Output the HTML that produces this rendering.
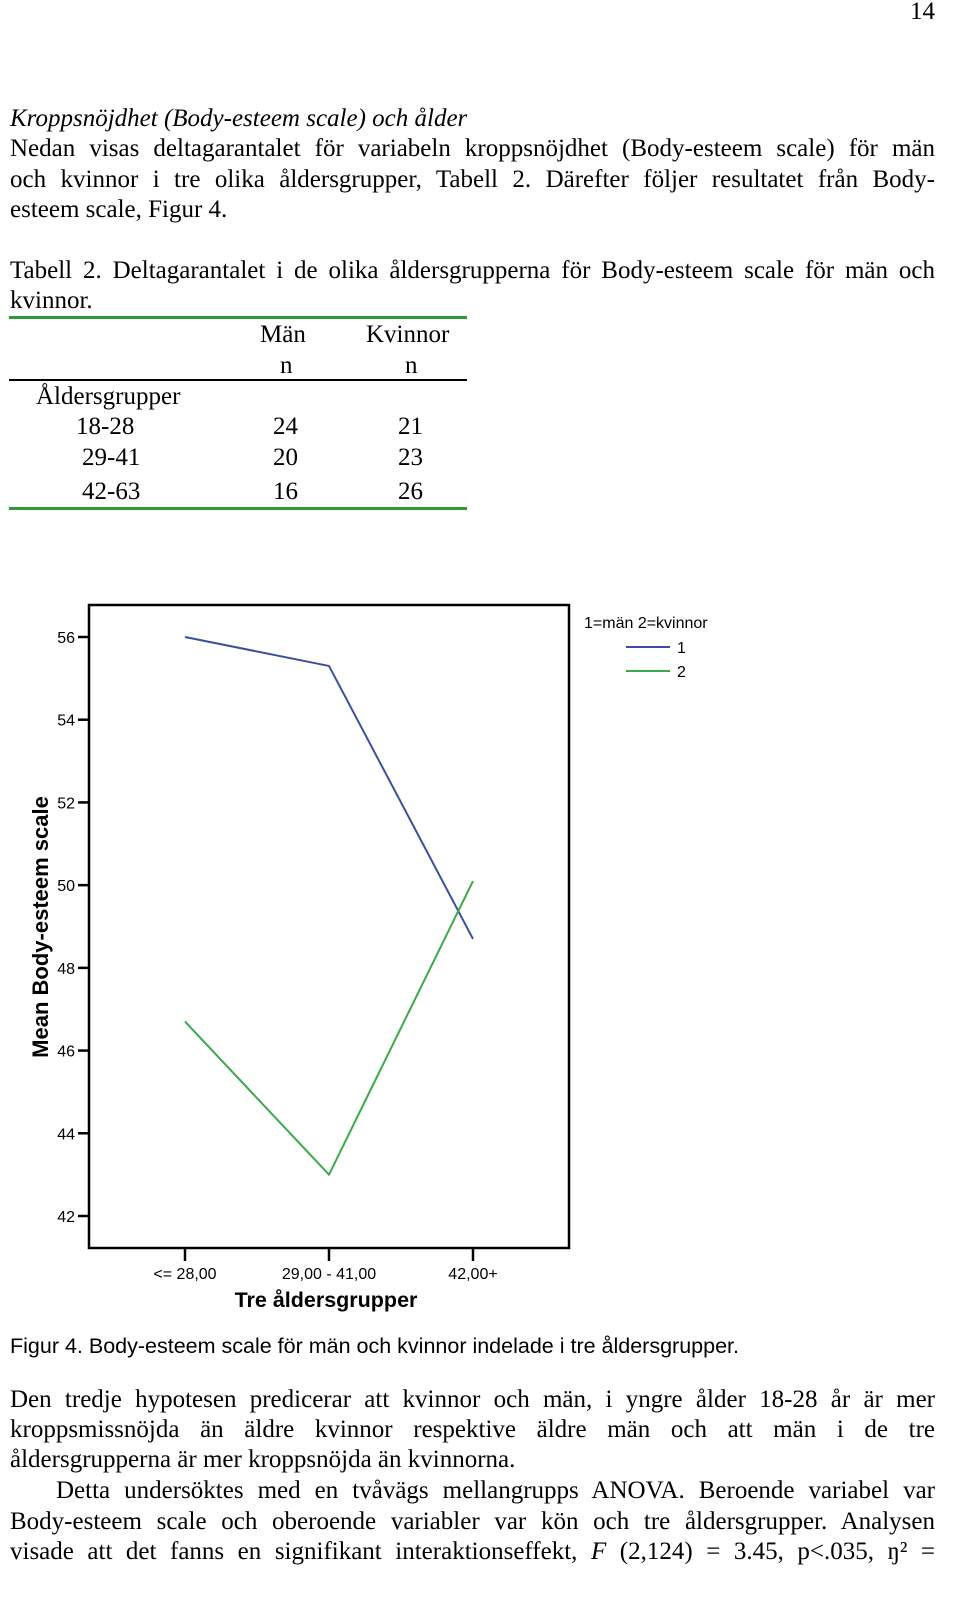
<!DOCTYPE html>
<html><head><meta charset="utf-8">
<style>
body{margin:0;width:960px;height:1606px;background:#fff;position:relative;font-family:"Liberation Serif",serif;color:#000;overflow:hidden}
.t{position:absolute;font-size:25px;line-height:30px;white-space:nowrap}
.l{position:absolute;left:10px;width:925px;font-size:25px;line-height:30px;white-space:nowrap;text-align:justify;text-align-last:justify}
.s{font-family:"Liberation Sans",sans-serif}
</style></head><body>
<div class="t" style="right:25px;top:-3px">14</div>
<div>
<div class="t" style="left:10px;top:104px"><i>Kroppsnöjdhet (Body-esteem scale) och ålder</i></div>
<div class="l" style="top:134px">Nedan visas deltagarantalet för variabeln kroppsnöjdhet (Body-esteem scale) för män</div>
<div class="l" style="top:165px">och kvinnor i tre olika åldersgrupper, Tabell 2. Därefter följer resultatet från Body-</div>
<div class="t" style="left:10px;top:195px">esteem scale, Figur 4.</div>
</div>
<div>
<div class="l" style="top:256px">Tabell 2. Deltagarantalet i de olika åldersgrupperna för Body-esteem scale för män och</div>
<div class="t" style="left:10px;top:286px">kvinnor.</div>
</div>
<div>
<div style="position:absolute;left:9px;top:316px;width:458px;height:3px;background:#2a9a3a"></div>
<div style="position:absolute;left:9px;top:379px;width:458px;height:2px;background:#000"></div>
<div style="position:absolute;left:9px;top:507px;width:458px;height:3px;background:#2a9a3a"></div>
<div class="t" style="left:260px;top:320px">Män</div>
<div class="t" style="left:366px;top:320px">Kvinnor</div>
<div class="t" style="left:280px;top:351px">n</div>
<div class="t" style="left:405px;top:351px">n</div>
<div class="t" style="left:36px;top:382px">Åldersgrupper</div>
<div class="t" style="left:76px;top:412px">18-28</div><div class="t" style="left:273px;top:412px">24</div><div class="t" style="left:398px;top:412px">21</div>
<div class="t" style="left:82px;top:443px">29-41</div><div class="t" style="left:273px;top:443px">20</div><div class="t" style="left:398px;top:443px">23</div>
<div class="t" style="left:82px;top:477px">42-63</div><div class="t" style="left:273px;top:477px">16</div><div class="t" style="left:398px;top:477px">26</div>
</div>
<svg id="chart" style="position:absolute;left:0;top:0" width="960" height="1606"></svg>
<div class="t s" style="left:10px;top:1331px;font-size:21.5px">Figur 4. Body-esteem scale för män och kvinnor indelade i tre åldersgrupper.</div>
<div>
<div class="l" style="top:1385px">Den tredje hypotesen predicerar att kvinnor och män, i yngre ålder 18-28 år är mer</div>
<div class="l" style="top:1415px">kroppsmissnöjda än äldre kvinnor respektive äldre män och att män i de tre</div>
<div class="t" style="left:10px;top:1445px">åldersgrupperna är mer kroppsnöjda än kvinnorna.</div>
<div class="l" style="top:1476px;left:56px;width:879px">Detta undersöktes med en tvåvägs mellangrupps ANOVA. Beroende variabel var</div>
<div class="l" style="top:1507px">Body-esteem scale och oberoende variabler var kön och tre åldersgrupper. Analysen</div>
<div class="l" style="top:1537px">visade att det fanns en signifikant interaktionseffekt, <i>F</i> (2,124) = 3.45, p&lt;.035, ŋ² =</div>
</div>
<script>
const categories=["<= 28,00","29,00 - 41,00","42,00+"];
const menValues=[56.0,55.3,48.7];
const womenValues=[46.7,43.0,50.1];
const yTicks=[42,44,46,48,50,52,54,56];
const ns="http://www.w3.org/2000/svg";
const svg=document.getElementById('chart');
const L=89,R=569,T=605,B=1248;
const y=v=>1216-(v-42)*(1216-637)/14;
const x=i=>185+i*144;
function mk(tag,a){const e=document.createElementNS(ns,tag);for(const k in a)e.setAttribute(k,a[k]);svg.appendChild(e);return e;}
const frame=mk('rect',{x:L,y:T,width:R-L,height:B-T,fill:'none',stroke:'#000','stroke-width':2.5});


yTicks.forEach(v=>{
  const tk=mk('line',{x1:78,x2:L,y1:y(v),y2:y(v),stroke:'#000','stroke-width':2.5});
  
  
  const tx=mk('text',{x:75,y:y(v)+6,'text-anchor':'end','font-family':'Liberation Sans, sans-serif','font-size':16});
  tx.textContent=v;
  
  
});
categories.forEach((c,i)=>{
  const tk=mk('line',{x1:x(i),x2:x(i),y1:B,y2:B+13,stroke:'#000','stroke-width':2.5});
  
  
  const tx=mk('text',{x:x(i),y:B+31,'text-anchor':'middle','font-family':'Liberation Sans, sans-serif','font-size':16});
  tx.textContent=c;
  
  
});
function series(vals,col,name){
  const p=mk('polyline',{points:vals.map((v,i)=>x(i)+','+y(v)).join(' '),fill:'none',stroke:col,'stroke-width':2});
  
  
}
series(menValues,'#3a4f9e','men-line');
series(womenValues,'#3aaa4a','women-line');
const xt=mk('text',{x:326,y:1307,'text-anchor':'middle','font-family':'Liberation Sans, sans-serif','font-size':21.5,'font-weight':'bold'});
xt.textContent='Tre åldersgrupper';


const yt=mk('text',{x:0,y:0,transform:'translate(48,927) rotate(-90)','text-anchor':'middle','font-family':'Liberation Sans, sans-serif','font-size':22,'font-weight':'bold'});
yt.textContent='Mean Body-esteem scale';


const lt=mk('text',{x:584,y:628,'font-family':'Liberation Sans, sans-serif','font-size':16});
lt.textContent='1=män 2=kvinnor';


[['1','#3a4f9e',647],['2','#3aaa4a',671]].forEach(([t,c,yy])=>{
  const ln=mk('line',{x1:626,x2:670,y1:yy,y2:yy,stroke:c,'stroke-width':2});
  
  
  const tx=mk('text',{x:677,y:yy+6,'font-family':'Liberation Sans, sans-serif','font-size':16});
  tx.textContent=t;
  
  
});
</script>
</body></html>
